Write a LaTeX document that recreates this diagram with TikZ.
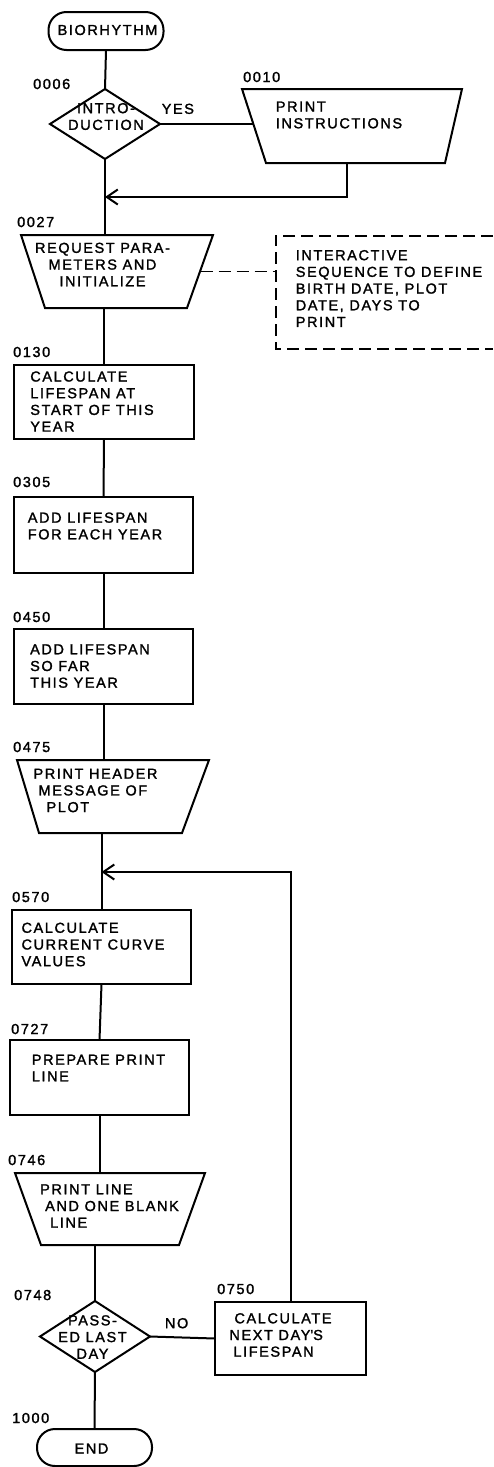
\documentclass[tikz,border=0pt]{standalone}
\usepackage{fontspec}
\setmainfont{Liberation Sans}[LetterSpace=11,FakeBold=1.6]
\usetikzlibrary{shapes.geometric,arrows.meta}
\begin{document}
\begin{tikzpicture}[x=1pt,y=-1pt,
  every node/.style={font=\fontsize{14.5}{16.7}\selectfont},
  ln/.style={line width=2pt},
  shp/.style={draw, line width=2pt, inner sep=0pt, outer sep=0pt},
  term/.style={shp, rectangle, rounded corners=18pt},
  proc/.style={shp, rectangle},
  dec/.style={shp, diamond},
  io/.style={rectangle, inner sep=0pt, outer sep=0pt},
  txt/.style={inner sep=0pt, align=left},
  num/.style={inner sep=0pt, anchor=base west},
  arr/.style={ln, -{Straight Barb[length=11pt,width=15pt]}},
  dsh/.style={line width=1.7pt, dash pattern=on 12pt off 6pt},
]
\useasboundingbox (0,0) rectangle (493,1467);

% shapes
\node[term, minimum width=115pt, minimum height=38pt, label={[txt,xshift=1.5pt,yshift=1pt]center:BIORHYTHM}] (bio) at (106,31) {};
\node[dec, minimum width=110pt, minimum height=70pt, label={[txt,align=center,xshift=1pt,yshift=7.5pt]center:{INTRO-\\DUCTION}}] (intro) at (105,124) {};
\node[io, minimum width=220pt, minimum height=74pt, label={[txt,xshift=-13pt,yshift=11pt]center:{PRINT\\INSTRUCTIONS}}] (instr) at (352,126) {};
\node[io, minimum width=192pt, minimum height=73pt, label={[txt,align=center,xshift=-14.5pt,yshift=7pt]center:{REQUEST PARA-\\METERS AND\\INITIALIZE}}] (req) at (117,271.5) {};
\node[minimum width=217pt, minimum height=113pt, inner sep=0pt, label={[txt,xshift=4.5pt,yshift=4pt]center:{INTERACTIVE\\SEQUENCE TO DEFINE\\BIRTH DATE, PLOT\\DATE, DAYS TO\\PRINT}}] (note) at (384.5,292.5) {};
\node[proc, minimum width=180pt, minimum height=74pt, label={[txt,xshift=-12pt,yshift=0.5pt]center:{CALCULATE\\LIFESPAN AT\\START OF THIS\\YEAR}}] (calc1) at (104,402) {};
\node[proc, minimum width=179pt, minimum height=76pt, label={[txt,xshift=-8.5pt,yshift=9pt]center:{ADD LIFESPAN\\FOR EACH YEAR}}] (add1) at (103.5,535) {};
\node[proc, minimum width=179pt, minimum height=75pt, label={[txt,xshift=-13.5pt,yshift=0.5pt]center:{ADD LIFESPAN\\SO FAR\\THIS YEAR}}] (add2) at (103.5,666.5) {};
\node[io, minimum width=192pt, minimum height=73pt, label={[txt,xshift=-17.5pt,yshift=6pt]center:{PRINT HEADER\\\hspace*{5pt}MESSAGE OF\\\hspace*{13pt}PLOT}}] (header) at (113,796.5) {};
\node[proc, minimum width=179pt, minimum height=74pt, label={[txt,xshift=-8.5pt,yshift=2.5pt]center:{CALCULATE\\CURRENT CURVE\\VALUES}}] (calc2) at (101.5,947) {};
\node[proc, minimum width=179pt, minimum height=75pt, label={[txt,xshift=-1pt,yshift=9.5pt]center:{PREPARE PRINT\\LINE}}] (prep) at (99.5,1077.5) {};
\node[io, minimum width=190pt, minimum height=72pt, label={[txt,xshift=-0.5pt,yshift=3pt]center:{PRINT LINE\\\hspace*{5pt}AND ONE BLANK\\\hspace*{10pt}LINE}}] (pl) at (110,1209) {};
\node[dec, minimum width=110pt, minimum height=71pt, label={[txt,align=center,xshift=-2.5pt,yshift=-0.5pt]center:{PASS-\\ED LAST\\DAY}}] (passed) at (95,1336.5) {};
\node[proc, minimum width=151pt, minimum height=73pt, label={[txt,xshift=-10pt,yshift=3.5pt]center:{\hspace*{5pt}CALCULATE\\NEXT DAY\textquotesingle S\\\hspace*{4pt}LIFESPAN}}] (next) at (290.5,1338.5) {};
\node[term, minimum width=115pt, minimum height=37pt, label={[txt,xshift=-3pt,yshift=-1pt]center:END}] (end) at (94.5,1447.5) {};

% trapezoid outlines (input/output boxes)
\draw[ln] (instr.north west) -- (instr.north east) -- ([xshift=-17pt]instr.south east) -- ([xshift=24pt]instr.south west) -- cycle;
\draw[ln] (req.north west) -- (req.north east) -- ([xshift=-26pt]req.south east) -- ([xshift=24pt]req.south west) -- cycle;
\draw[ln] (header.north west) -- (header.north east) -- ([xshift=-27pt]header.south east) -- ([xshift=22pt]header.south west) -- cycle;
\draw[ln] (pl.north west) -- (pl.north east) -- ([xshift=-26pt]pl.south east) -- ([xshift=26pt]pl.south west) -- cycle;

% step numbers
\node[num] (n0006) at (33,89) {0006};
\node[num] (n0010) at (243,82) {0010};
\node[num] (n0027) at (17,227) {0027};
\node[num] (n0130) at (13,357) {0130};
\node[num] (n0305) at (13,487) {0305};
\node[num] (n0450) at (13,622) {0450};
\node[num] (n0475) at (13,752) {0475};
\node[num] (n0570) at (12,902) {0570};
\node[num] (n0727) at (11,1034) {0727};
\node[num] (n0746) at (8,1165) {0746};
\node[num] (n0748) at (14,1300) {0748};
\node[num] (n0750) at (217,1294) {0750};
\node[num] (n1000) at (12,1423) {1000};

% connectors
\draw[ln] (bio.south) -- (intro.north);
\draw[ln] (intro.east) -- node[pos=0.19, anchor=south, yshift=9pt, inner sep=0pt] (yes) {YES} ([xshift=12pt]intro.east -| instr.west);
\coordinate (j1) at (intro.south |- 0,197);
\draw[ln] (intro.south) -- (intro.south |- req.north);
\draw[arr] ([xshift=-5pt]instr.south) |- (j1);
\draw[dsh] ([xshift=-12.5pt]req.east) -- (req.east -| note.west);
\draw[dsh] (note.north east) -- (note.north west) -- (note.south west) -- (note.south east);
\draw[ln] (calc1.north |- req.south) -- (calc1.north);
\draw[ln] (calc1.south) -- (add1.north);
\draw[ln] (add1.south) -- (add2.north);
\draw[ln] (add2.south) -- (add2.south |- header.north);
\draw[ln] (calc2.north |- header.south) -- (calc2.north);
\coordinate (j2) at (calc2.north |- 0,872);
\draw[arr] (next.north) |- (j2);
\draw[ln] (calc2.south) -- (prep.north);
\draw[ln] (prep.south) -- (prep.south |- pl.north);
\draw[ln] (passed.north |- pl.south) -- (passed.north);
\draw[ln] (passed.east) -- node[pos=0.41, anchor=south, yshift=8pt, inner sep=0pt] (no) {NO} (next.west);
\draw[ln] (passed.south) -- (end.north);
\end{tikzpicture}
\end{document}
